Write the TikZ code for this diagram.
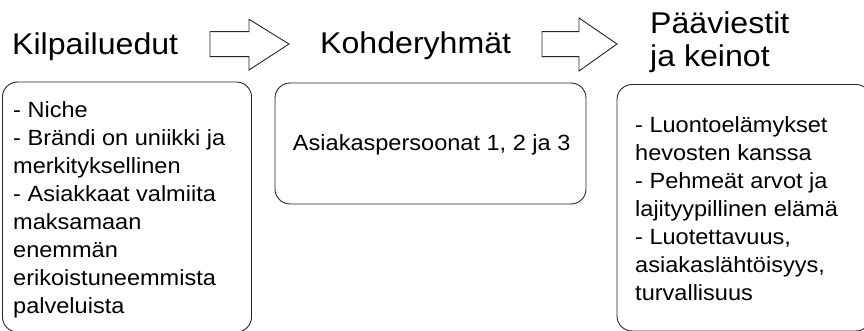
\documentclass[tikz,border=0pt]{standalone}
\usepackage{fontspec}
\setmainfont{Liberation Sans}[FakeStretch=1.07]
\begin{document}
\begin{tikzpicture}[x=1pt,y=-1pt,
  boxshape/.style={draw=black!85, line width=0.9pt, rounded corners=15pt},
  blockarrow/.style={draw=black!85, line width=0.9pt, line join=miter},
  title/.style={anchor=base west, inner sep=0pt, font=\fontsize{30}{33.3}\selectfont, align=left},
  body/.style={anchor=base west, inner sep=0pt, font=\fontsize{22}{28}\selectfont, align=left}]
\useasboundingbox (0,0) rectangle (864,331);
\begin{scope}
\clip (0,0) rectangle (864,331);
% boxes
\draw[boxshape] (2.5,82) rectangle (251.5,332);
\draw[boxshape] (275,83) rectangle (586,204);
\draw[boxshape] (617,84.5) rectangle (871,331);
\end{scope}
% block arrows
\draw[blockarrow] (210,31.7) -- (249,31.7) -- (249,19.3) -- (289,44) -- (249,70) -- (249,56.7) -- (210,56.7) -- cycle;
\draw[blockarrow] (542,31.7) -- (579,31.7) -- (579,18) -- (617,44) -- (579,71) -- (579,56.7) -- (542,56.7) -- cycle;
% titles (anchor base = baseline of last line)
\node[title] (t1) at (12,55) {Kilpailuedut};
\node[title] (t2) at (320,54) {Kohderyhmät};
\node[title] (t3) at (650,66.7) {Pääviestit\\ja keinot};
% body texts
\node[body] (x1) at (13,313.3) {- Niche\\- Brändi on uniikki ja\\merkityksellinen\\- Asiakkaat valmiita\\maksamaan\\enemmän\\erikoistuneemmista\\palveluista};
\node[body, anchor=base] (x2) at (431.7,151) {Asiakaspersoonat 1, 2 ja 3};
\node[body] (x3) at (635,300.7) {- Luontoelämykset\\hevosten kanssa\\- Pehmeät arvot ja\\lajityypillinen elämä\\- Luotettavuus,\\asiakaslähtöisyys,\\turvallisuus};
\end{tikzpicture}
\end{document}
